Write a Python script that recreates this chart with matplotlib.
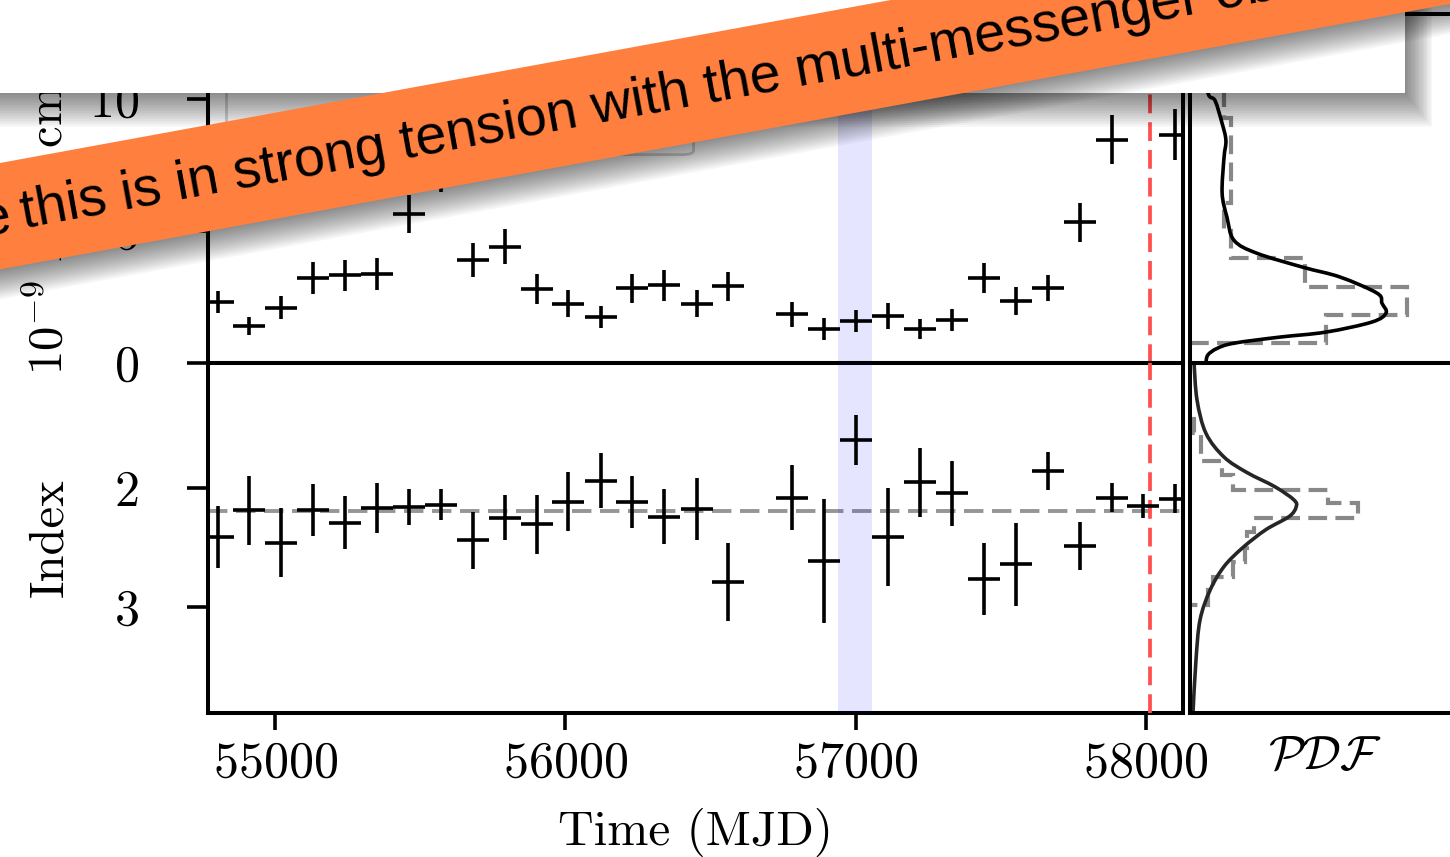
import matplotlib
matplotlib.use("Agg")
import matplotlib.pyplot as plt
from matplotlib.patches import Polygon, Rectangle, FancyBboxPatch, PathPatch
from matplotlib.path import Path

plt.rcParams['font.family'] = 'serif'
plt.rcParams['font.serif'] = ['cmr10']
plt.rcParams['mathtext.fontset'] = 'cm'
plt.rcParams['axes.formatter.use_mathtext'] = True

# ---- light curve ----
time_mjd = [54802, 54911, 55020, 55132, 55241, 55350, 55461, 55571, 55681, 55792,
            55901, 56010, 56122, 56231, 56341, 56453, 56561, 56782, 56892, 57002,
            57113, 57223, 57333, 57442, 57553, 57663, 57773, 57882, 57991, 58100]
flux = [2.31, 1.40, 2.09, 3.22, 3.32, 3.36, 5.62, 7.2, 3.89, 4.39,
        2.79, 2.25, 1.75, 2.82, 2.94, 2.25, 2.91, 1.84, 1.28, 1.60,
        1.78, 1.28, 1.63, 3.21, 2.34, 2.84, 5.33, 8.45, 11.5, 8.64]
flux_err = [0.43, 0.34, 0.43, 0.60, 0.58, 0.60, 0.72, 0.75, 0.63, 0.66,
            0.57, 0.52, 0.41, 0.55, 0.58, 0.52, 0.55, 0.47, 0.41, 0.42,
            0.50, 0.39, 0.43, 0.58, 0.52, 0.48, 0.74, 0.94, 1.00, 0.97]
index = [2.41, 2.185, 2.46, 2.185, 2.29, 2.17, 2.16, 2.14, 2.44, 2.25,
         2.305, 2.115, 1.94, 2.12, 2.24, 2.18, 2.79, 2.08, 2.61, 1.60,
         2.41, 1.95, 2.045, 2.765, 2.64, 1.855, 2.485, 2.08, 2.15, 2.09]
index_err = [0.26, 0.29, 0.29, 0.22, 0.22, 0.21, 0.15, 0.13, 0.24, 0.19,
             0.25, 0.25, 0.23, 0.22, 0.23, 0.26, 0.33, 0.27, 0.52, 0.21,
             0.41, 0.29, 0.27, 0.30, 0.35, 0.16, 0.20, 0.12, 0.10, 0.12]
bin_half_width = 55  # days

mean_index = 2.19
flare_window = (56939, 57057)
neutrino_mjd = 58016

# ---- side panels (distribution of flux and index) ----
flux_hist_edges = [0.75, 1.81, 2.87, 3.96, 5.0, 6.07, 7.1, 8.2, 9.25, 10.3, 11.4, 12.4]
flux_hist_vals = [0.504, 0.804, 0.426, 0.152, 0.126, 0.152, 0.152, 0.152, 0.126, 0.10, 0.08]
flux_kde_y = [0.0, 0.3, 0.55, 0.75, 0.98, 1.17, 1.55, 1.89, 2.26, 2.64, 3.25, 3.62, 4.15,
              4.64, 5.51, 6.42, 7.77, 8.42, 9.06, 9.92, 10.2, 11.5, 13.2]
flux_kde_pdf = [0.059, 0.066, 0.10, 0.163, 0.333, 0.504, 0.674, 0.726, 0.711, 0.693, 0.556, 0.419,
                0.248, 0.163, 0.137, 0.119, 0.126, 0.133, 0.119, 0.093, 0.067, 0.048, 0.037]

index_hist_edges = [1.42, 1.54, 1.66, 1.77, 1.89, 2.02, 2.13, 2.25, 2.37, 2.50, 2.62, 2.75, 2.86, 2.98]
index_hist_vals = [0.015, 0.041, 0.041, 0.119, 0.159, 0.511, 0.622, 0.237, 0.211, 0.204, 0.159, 0.085, 0.067]
index_kde_y = [0.95, 1.26, 1.54, 1.74, 1.87, 1.99, 2.10, 2.16, 2.24, 2.35, 2.50, 2.66, 2.86, 3.11, 3.45, 3.89]
index_kde_pdf = [0.015, 0.026, 0.059, 0.126, 0.211, 0.315, 0.385, 0.393, 0.367, 0.281, 0.196, 0.126,
                 0.074, 0.037, 0.022, 0.011]

W, H = 1450, 857
fig = plt.figure(figsize=(W / 100, H / 100), dpi=100)


def px_box(x0, y_top, x1, y_bot):
    return [x0 / W, 1 - y_bot / H, (x1 - x0) / W, (y_bot - y_top) / H]


def px(x, y):
    return (x / W, 1 - y / H)


def smooth_path(xs, ys):
    # Catmull-Rom curve through the read points, as cubic Bezier segments
    pts = list(zip(xs, ys))
    n = len(pts)
    verts, codes = [pts[0]], [Path.MOVETO]
    for i in range(n - 1):
        p0, p1 = pts[max(i - 1, 0)], pts[i]
        p2, p3 = pts[i + 1], pts[min(i + 2, n - 1)]
        c1 = (p1[0] + (p2[0] - p0[0]) / 6, p1[1] + (p2[1] - p0[1]) / 6)
        c2 = (p2[0] - (p3[0] - p1[0]) / 6, p2[1] - (p3[1] - p1[1]) / 6)
        verts += [c1, c2, p2]
        codes += [Path.CURVE4] * 3
    return Path(verts, codes)


ax_f = fig.add_axes(px_box(208, 14, 1183, 363))
ax_i = fig.add_axes(px_box(208, 363, 1183, 713), sharex=ax_f)
ax_pf = fig.add_axes(px_box(1190, 14, 1460, 363))
ax_pi = fig.add_axes(px_box(1190, 363, 1460, 713))

for ax, vals, errs in [(ax_f, flux, flux_err), (ax_i, index, index_err)]:
    ax.errorbar(time_mjd, vals, xerr=bin_half_width, yerr=errs, fmt='none',
                ecolor='k', elinewidth=2.6, capsize=0, zorder=4)
    ax.axvspan(*flare_window, color='b', alpha=0.1, lw=0, zorder=3)
    ax.axvline(neutrino_mjd, color='#ff4f4f', ls=(0, (5, 2.4)), lw=2.7, zorder=3.5)

ax_i.axhline(mean_index, color='#969696', ls=(0, (5, 2.2)), lw=2.8, zorder=2)

ax_f.set_xlim(54769, 58128)
ax_f.set_ylim(0, 13.2)
ax_i.set_ylim(3.89, 0.95)
ax_f.set_yticks([0, 5, 10])
ax_i.set_yticks([2, 3])
ax_i.set_xticks([55000, 56000, 57000, 58000])

for ax in (ax_f, ax_i, ax_pf, ax_pi):
    for sp in ax.spines.values():
        sp.set_linewidth(2.9)

for ax in (ax_f, ax_i):
    ax.tick_params(axis='y', direction='out', length=15, width=2.6, labelsize=36, pad=35)
    ax.tick_params(axis='x', direction='out', length=12, width=2.6, labelsize=36, pad=8)
ax_f.tick_params(axis='x', bottom=False, labelbottom=False)

ax_f.set_ylabel(r'$10^{-9}$ Flux cm$^{-2}$ s$^{-1}$', fontsize=35)
ax_i.set_ylabel('Index', fontsize=35)
ax_f.yaxis.set_label_coords(-0.139, 0.566)
ax_i.yaxis.set_label_coords(-0.139, 0.5)
ax_i.set_xlabel('Time (MJD)', fontsize=35.5)
ax_i.xaxis.set_label_coords(0.5, -0.27)

# legend frame (its entries sit under the banner)
ax_f.add_patch(FancyBboxPatch((0.019, 0.597), 0.479, 0.37, boxstyle='round,pad=0,rounding_size=0.012',
                              transform=ax_f.transAxes, fc='white', ec='0.82', lw=2, zorder=6))

# side panels
ax_pf.stairs(flux_hist_vals, flux_hist_edges, orientation='horizontal', baseline=0,
             color='#888888', ls=(0, (4.5, 2)), lw=3)
ax_pf.add_patch(PathPatch(smooth_path(flux_kde_pdf, flux_kde_y), fc='none', ec='k', lw=2.6))
ax_pi.stairs(index_hist_vals, index_hist_edges, orientation='horizontal', baseline=0,
             color='#888888', ls=(0, (4.5, 2)), lw=3)
ax_pi.add_patch(PathPatch(smooth_path(index_kde_pdf, index_kde_y), fc='none', ec='0.15', lw=2.6))
ax_pf.set_ylim(ax_f.get_ylim())
ax_pi.set_ylim(ax_i.get_ylim())
for ax in (ax_pf, ax_pi):
    ax.set_xlim(0, 1)
    ax.tick_params(left=False, labelleft=False, bottom=False, labelbottom=False)
ax_pi.set_xlabel(r'$\mathcal{PDF}$', fontsize=35)
ax_pi.xaxis.set_label_coords(0.5, -0.06)

# ---- overlay: white card with shadow, orange banner with shadow ----
for k in range(1, 18):
    fig.add_artist(Rectangle(px(0, 93 + 2.0 * k), (1405 + 1.6 * k) / W, (93 + 2.0 * k) / H,
                             transform=fig.transFigure, fc='k', ec='none', alpha=0.03, zorder=5))
fig.add_artist(Rectangle(px(0, 93), 1405 / W, 93 / H, transform=fig.transFigure,
                         fc='white', ec='none', zorder=6))

slope = -0.183
x_a, x_b = -30, 1500
upper = [(x_a, 163 + slope * x_a), (x_b, 163 + slope * x_b)]
lower = [(x_b, 269.3 + slope * x_b), (x_a, 269.3 + slope * x_a)]
for k in range(1, 16):
    pts = [px(x, y + 2.0 * k) for x, y in upper + lower]
    fig.add_artist(Polygon(pts, closed=True, transform=fig.transFigure,
                           fc='k', ec='none', alpha=0.035, zorder=7))
fig.add_artist(Polygon([px(x, y) for x, y in upper + lower], closed=True,
                       transform=fig.transFigure, fc='#ff7f3f', ec='none', zorder=8))

angle = 10.37
x0 = 24
fig.text(*px(x0, 233 + slope * x0), 'this is in strong tension with the multi-messenger observations',
         rotation=angle, rotation_mode='anchor', ha='left', va='baseline',
         fontsize=40, family='Liberation Sans', color='k', zorder=9)
x1 = 14
fig.text(*px(x1, 233 + slope * x1), 'while', rotation=angle, rotation_mode='anchor',
         ha='right', va='baseline', fontsize=40, family='Liberation Sans', color='k', zorder=9)

fig.savefig('out.png', dpi=100)
